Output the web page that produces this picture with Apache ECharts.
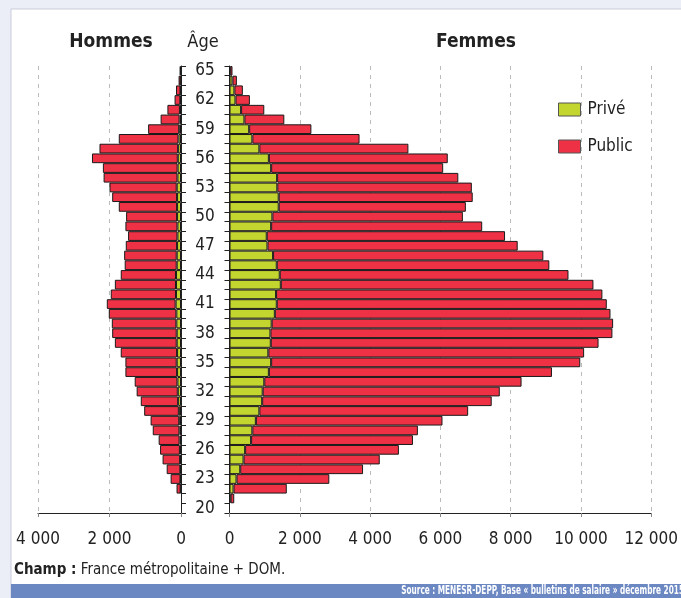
<!DOCTYPE html>
<html>
<head>
<meta charset="utf-8">
<script src="https://cdn.jsdelivr.net/npm/echarts@6/dist/echarts.min.js"></script>
<style>
  html, body { margin: 0; padding: 0; background: #eceef7; }
  #chart { width: 681px; height: 598px; }
</style>
</head>
<body>
<div id="chart"></div>
<script>
// âges 20 à 65
var ages = ['20','21','22','23','24','25','26','27','28','29','30','31','32','33','34','35',
  '36','37','38','39','40','41','42','43','44','45','46','47','48','49','50','51','52','53',
  '54','55','56','57','58','59','60','61','62','63','64','65']

// Hommes
var hommesPrive = [null, null, 10, 15, 20, 25, 30, 40, 45, 50, 60, 80, 90, 100, 110, 120,
  110, 120, 120, 130, 130, 150, 140, 140, 140, 120, 120, 110, 100, 100, 110, 110, 110, 120,
  100, 95, 90, 80, 70, 50, 40, 30, 20, 15, 10, null]
var hommesPublic = [null, null, 115, 275, 380, 490, 555, 585, 745, 800, 970, 1045, 1150, 1195, 1445, 1435,
  1575, 1730, 1805, 1805, 1890, 1925, 1825, 1710, 1545, 1455, 1470, 1435, 1380, 1455, 1425, 1630, 1815, 1880,
  2065, 2090, 2400, 2200, 1670, 870, 530, 350, 160, 125, 57, 40]

// Femmes
var femmesPrive = [null, 30, 115, 200, 305, 400, 445, 615, 650, 750, 850, 930, 945, 990, 1120, 1185,
  1105, 1175, 1165, 1200, 1290, 1345, 1325, 1460, 1430, 1345, 1240, 1080, 1060, 1185, 1220, 1400, 1400, 1360,
  1355, 1185, 1120, 850, 650, 560, 425, 330, 170, 140, 85, 20]
var femmesPublic = [null, 105, 1515, 2640, 3495, 3875, 4375, 4605, 4710, 5310, 5940, 6530, 6745, 7320, 8055, 8795,
  8985, 9325, 9730, 9715, 9550, 9390, 9285, 8895, 8215, 7755, 7690, 7120, 6780, 6005, 5420, 5325, 5520, 5535,
  5155, 4895, 5090, 4240, 3050, 1770, 1135, 660, 410, 240, 125, 65]

var fontCond = "'Liberation Sans Narrow', 'DejaVu Sans Condensed', 'Roboto', sans-serif"
var vert = '#c3d52f'
var rouge = '#ee3145'

function milliers(v) {
  return String(v).replace(/\B(?=(\d{3})+(?!\d))/g, ' ')
}

var xCommun = {
  type: 'value',
  interval: 2000,
  min: 0,
  axisLine: { show: true, lineStyle: { color: '#222', width: 1 } },
  axisTick: { show: true, length: 4, lineStyle: { color: '#888' } },
  axisLabel: { color: '#222', fontSize: 17, fontFamily: fontCond, margin: 18, formatter: milliers },
  splitLine: { show: true, lineStyle: { color: '#bbb', type: [4, 5] } },
}

var styleBarre = function (couleur) {
  return { color: couleur, borderColor: '#1a1a1a', borderWidth: 1 }
}

var chart = echarts.init(document.getElementById('chart'))
var option = {
  backgroundColor: '#eceef7',
  animation: false,
  textStyle: { fontFamily: fontCond },
  graphic: [
    { type: 'rect', z: -10, shape: { x: 11, y: 9, width: 680, height: 600 },
      style: { fill: '#fff', stroke: '#c9cdd8', lineWidth: 1 } },
    { type: 'rect', z: -5, shape: { x: 11, y: 584, width: 680, height: 14 },
      style: { fill: '#6c88c3' } },
    { type: 'text', x: 111, y: 42,
      style: { text: 'Hommes', fontSize: 19, fontWeight: 'bold', fontFamily: fontCond, fill: '#222',
        align: 'center', verticalAlign: 'middle' } },
    { type: 'text', x: 476, y: 42,
      style: { text: 'Femmes', fontSize: 19, fontWeight: 'bold', fontFamily: fontCond, fill: '#222',
        align: 'center', verticalAlign: 'middle' } },
    { type: 'text', x: 203, y: 42,
      style: { text: 'Âge', fontSize: 18, fontFamily: fontCond, fill: '#222',
        align: 'center', verticalAlign: 'middle' } },
    { type: 'text', x: 14, y: 570,
      style: { text: '{b|Champ :} France métropolitaine + DOM.', fontSize: 15, fontFamily: fontCond,
        fill: '#222', verticalAlign: 'middle',
        rich: { b: { fontWeight: 'bold', fontSize: 15, fontFamily: fontCond, fill: '#222' } } } },
    { type: 'text', x: 684, y: 591, scaleX: 0.68, originX: 0, originY: 0,
      style: { text: 'Source : MENESR-DEPP, Base « bulletins de salaire » décembre 2015', fontSize: 12,
        fontWeight: 'bold', fontFamily: fontCond, fill: '#fff', align: 'right', verticalAlign: 'middle' } },
  ],
  legend: {
    orient: 'vertical',
    left: 553,
    top: 96,
    icon: 'rect',
    itemWidth: 22,
    itemHeight: 13,
    itemGap: 20,
    itemStyle: { borderColor: '#555', borderWidth: 1 },
    textStyle: { fontSize: 17, color: '#222', fontFamily: fontCond, padding: [0, 0, 0, 2] },
    data: ['Privé', 'Public'],
  },
  grid: [
    { left: 38, width: 143, top: 66, height: 447 },
    { left: 229.5, width: 422.5, top: 66, height: 447 },
  ],
  xAxis: [
    Object.assign({}, xCommun, { gridIndex: 0, max: 4000, inverse: true }),
    Object.assign({}, xCommun, { gridIndex: 1, max: 12000 }),
  ],
  yAxis: [
    {
      type: 'category', gridIndex: 0, position: 'right', data: ages,
      axisLine: { show: true, lineStyle: { color: '#222' } },
      axisTick: { show: true, interval: 0, length: 5, lineStyle: { color: '#222' } },
      axisLabel: { interval: 2, align: 'center', margin: 24, fontSize: 17, color: '#222',
        fontFamily: fontCond, padding: [4, 0, 0, 0] },
      splitLine: { show: false },
    },
    {
      type: 'category', gridIndex: 1, position: 'left', data: ages,
      axisLine: { show: true, lineStyle: { color: '#222' } },
      axisTick: { show: true, interval: 0, length: 5, lineStyle: { color: '#222' } },
      axisLabel: { show: false },
      splitLine: { show: false },
    },
  ],
  series: [
    { name: 'Privé', type: 'bar', xAxisIndex: 0, yAxisIndex: 0, stack: 'h', barCategoryGap: '0%',
      itemStyle: styleBarre(vert), data: hommesPrive },
    { name: 'Public', type: 'bar', xAxisIndex: 0, yAxisIndex: 0, stack: 'h', barCategoryGap: '0%',
      itemStyle: styleBarre(rouge), data: hommesPublic },
    { name: 'Privé', type: 'bar', xAxisIndex: 1, yAxisIndex: 1, stack: 'f', barCategoryGap: '0%',
      itemStyle: styleBarre(vert), data: femmesPrive },
    { name: 'Public', type: 'bar', xAxisIndex: 1, yAxisIndex: 1, stack: 'f', barCategoryGap: '0%',
      itemStyle: styleBarre(rouge), data: femmesPublic },
  ],
}
chart.setOption(option)
</script>
</body>
</html>
